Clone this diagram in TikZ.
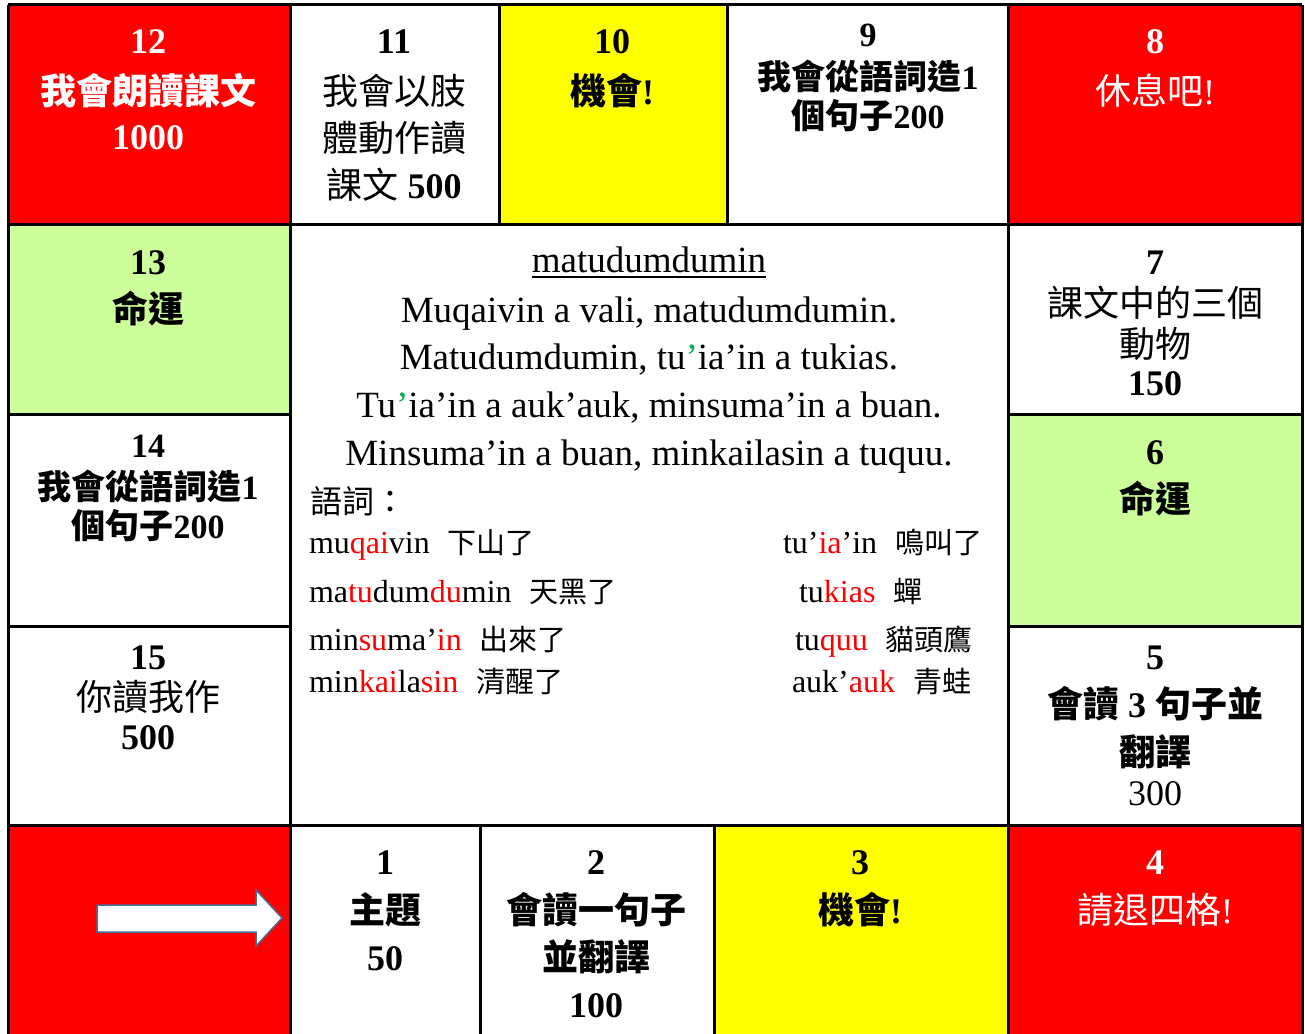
\documentclass[tikz,border=0pt]{standalone}
\usepackage{fontspec}
\setmainfont{Liberation Serif}
\newfontfamily\cjk{Noto Sans CJK TC}
\newcommand\zh[1]{{\cjk #1}}
\newcommand\fA{\fontsize{36}{40}\selectfont}
\newcommand\fB{\fontsize{34}{38}\selectfont}
\newcommand\fC{\fontsize{37}{44}\selectfont}
\newcommand\fD{\fontsize{32}{38}\selectfont}
\newcommand\fE{\fontsize{29}{34}\selectfont}
\newcommand\rd[1]{\textcolor{red}{#1}}
\definecolor{lgreen}{HTML}{CCFF99}
\definecolor{yel}{HTML}{FFFF00}
\definecolor{apgreen}{HTML}{00B050}
\definecolor{arrowblue}{HTML}{41719C}
\begin{document}
\begin{tikzpicture}[x=1pt,y=-1pt,
  lbl/.style={anchor=base,inner sep=0pt,outer sep=0pt},
  lblw/.style={anchor=base west,inner sep=0pt,outer sep=0pt},
  gridline/.style={line width=3pt,black},
  bignum/.style={lbl,font=\fA\bfseries},
  midnum/.style={lbl,font=\fB\bfseries}]
\useasboundingbox (0,0) rectangle (1305,1033);
\clip (0,0) rectangle (1305,1033);
% cell fills
\fill[red] (8,5) rectangle (290,224);
\fill[yel] (499,5) rectangle (727,224);
\fill[red] (1008,5) rectangle (1302,224);
\fill[lgreen] (8,224) rectangle (290,414);
\fill[lgreen] (1008,414) rectangle (1302,626);
\fill[red] (8,825) rectangle (290,1040);
\fill[yel] (714,825) rectangle (1008,1040);
\fill[red] (1008,825) rectangle (1302,1040);
% grid
\draw[gridline] (8,5) -- (1302,5);
\draw[gridline] (8,5) -- (8,1040);
\draw[gridline] (1302,5) -- (1302,1040);
\draw[gridline] (8,224) -- (1302,224);
\draw[gridline] (8,825) -- (1302,825);
\draw[gridline] (290,5) -- (290,1040);
\draw[gridline] (1008,5) -- (1008,1040);
\draw[gridline] (499,5) -- (499,224);
\draw[gridline] (727,5) -- (727,224);
\draw[gridline] (480,825) -- (480,1040);
\draw[gridline] (714,825) -- (714,1040);
\draw[gridline] (8,414) -- (290,414);
\draw[gridline] (8,626) -- (290,626);
\draw[gridline] (1008,414) -- (1302,414);
\draw[gridline] (1008,626) -- (1302,626);
% start arrow
\draw[arrowblue,fill=white,line width=1.5pt,line join=miter]
  (97,905) -- (256,905) -- (256,890) -- (282,918) -- (256,946) -- (256,932) -- (97,932) -- cycle;
% cell 12
\node[bignum,text=white] (n12) at (148,54) {12};
\node[bignum,text=white] (t12a) at (148,104) {\zh{我會朗讀課文}};
\node[bignum,text=white] (t12b) at (148,149) {1000};
% cell 11
\node[bignum] (n11) at (394,54) {11};
\node[lbl,font=\fA] (t11a) at (394,104) {\zh{我會以肢}};
\node[lbl,font=\fA] (t11b) at (394,151) {\zh{體動作讀}};
\node[lbl,font=\fA] (t11c) at (394,198) {\zh{課文} \textbf{500}};
% cell 10
\node[bignum] (n10) at (612,54) {10};
\node[bignum] (t10a) at (612,104) {\zh{機會}!};
% cell 9
\node[midnum] (n9) at (868,47) {9};
\node[midnum] (t9a) at (868,89) {\zh{我會從語詞造}1};
\node[midnum] (t9b) at (868,128) {\zh{個句子}200};
% cell 8
\node[bignum,text=white] (n8) at (1155,54) {8};
\node[lbl,font=\fA,text=white] (t8a) at (1155,104) {\zh{休息吧}!};
% cell 13
\node[bignum] (n13) at (148,274) {13};
\node[bignum] (t13a) at (148,322) {\zh{命運}};
% cell 14
\node[midnum] (n14) at (148,457) {14};
\node[midnum] (t14a) at (148,499) {\zh{我會從語詞造}1};
\node[midnum] (t14b) at (148,538) {\zh{個句子}200};
% cell 15
\node[bignum] (n15) at (148,669) {15};
\node[lbl,font=\fA] (t15a) at (148,710) {\zh{你讀我作}};
\node[bignum] (t15b) at (148,749) {500};
% cell 7
\node[bignum] (n7) at (1155,274) {7};
\node[lbl,font=\fA] (t7a) at (1155,316) {\zh{課文中的三個}};
\node[lbl,font=\fA] (t7b) at (1155,357) {\zh{動物}};
\node[bignum] (t7c) at (1155,395) {150};
% cell 6
\node[bignum] (n6) at (1155,464) {6};
\node[bignum] (t6a) at (1155,512) {\zh{命運}};
% cell 5
\node[bignum] (n5) at (1155,669) {5};
\node[bignum] (t5a) at (1155,717) {\zh{會讀} 3 \zh{句子並}};
\node[bignum] (t5b) at (1155,765) {\zh{翻譯}};
\node[lbl,font=\fA] (t5c) at (1155,805) {300};
% cell 1
\node[bignum] (n1) at (385,874) {1};
\node[bignum] (t1a) at (385,923) {\zh{主題}};
\node[bignum] (t1b) at (385,970) {50};
% cell 2
\node[bignum] (n2) at (596,874) {2};
\node[bignum] (t2a) at (596,923) {\zh{會讀一句子}};
\node[bignum] (t2b) at (596,970) {\zh{並翻譯}};
\node[bignum] (t2c) at (596,1017) {100};
% cell 3
\node[bignum] (n3) at (860,874) {3};
\node[bignum] (t3a) at (860,923) {\zh{機會}!};
% cell 4
\node[bignum,text=white] (n4) at (1155,874) {4};
\node[lbl,font=\fA,text=white] (t4a) at (1155,923) {\zh{請退四格}!};
% centre text
\node[lbl,font=\fC] (title) at (649,272) {matudumdumin};
\draw[line width=1.6pt] ([yshift=-5pt]title.base west) -- ([yshift=-5pt]title.base east);
\node[lbl,font=\fC] (s1) at (649,322) {Muqaivin a vali, matudumdumin.};
\node[lbl,font=\fC] (s2) at (649,369) {Matudumdumin, tu\textcolor{apgreen}{’}ia’in a tukias.};
\node[lbl,font=\fC] (s3) at (649,417) {Tu\textcolor{apgreen}{’}ia’in a auk’auk, minsuma’in a buan.};
\node[lbl,font=\fC] (s4) at (649,465) {Minsuma’in a buan, minkailasin a tuquu.};
% vocabulary
\node[lblw,font=\fD] (vh) at (310,513) {\zh{語詞：}};
\node[lblw,font=\fD] (v1) at (309,553) {mu\rd{qai}vin\hspace{18pt}\zh{\fE 下山了}};
\node[lblw,font=\fD] (v2) at (309,602) {ma\rd{tu}dum\rd{du}min\hspace{18pt}\zh{\fE 天黑了}};
\node[lblw,font=\fD] (v3) at (309,650) {min\rd{su}ma’\rd{in}\hspace{18pt}\zh{\fE 出來了}};
\node[lblw,font=\fD] (v4) at (309,692) {min\rd{kai}la\rd{sin}\hspace{18pt}\zh{\fE 清醒了}};
\node[lblw,font=\fD] (v5) at (783,553) {tu’\rd{ia}’in\hspace{18pt}\zh{\fE 鳴叫了}};
\node[lblw,font=\fD] (v6) at (799,602) {tu\rd{kias}\hspace{18pt}\zh{\fE 蟬}};
\node[lblw,font=\fD] (v7) at (795,650) {tu\rd{quu}\hspace{18pt}\zh{\fE 貓頭鷹}};
\node[lblw,font=\fD] (v8) at (792,692) {auk’\rd{auk}\hspace{18pt}\zh{\fE 青蛙}};
\end{tikzpicture}
\end{document}
